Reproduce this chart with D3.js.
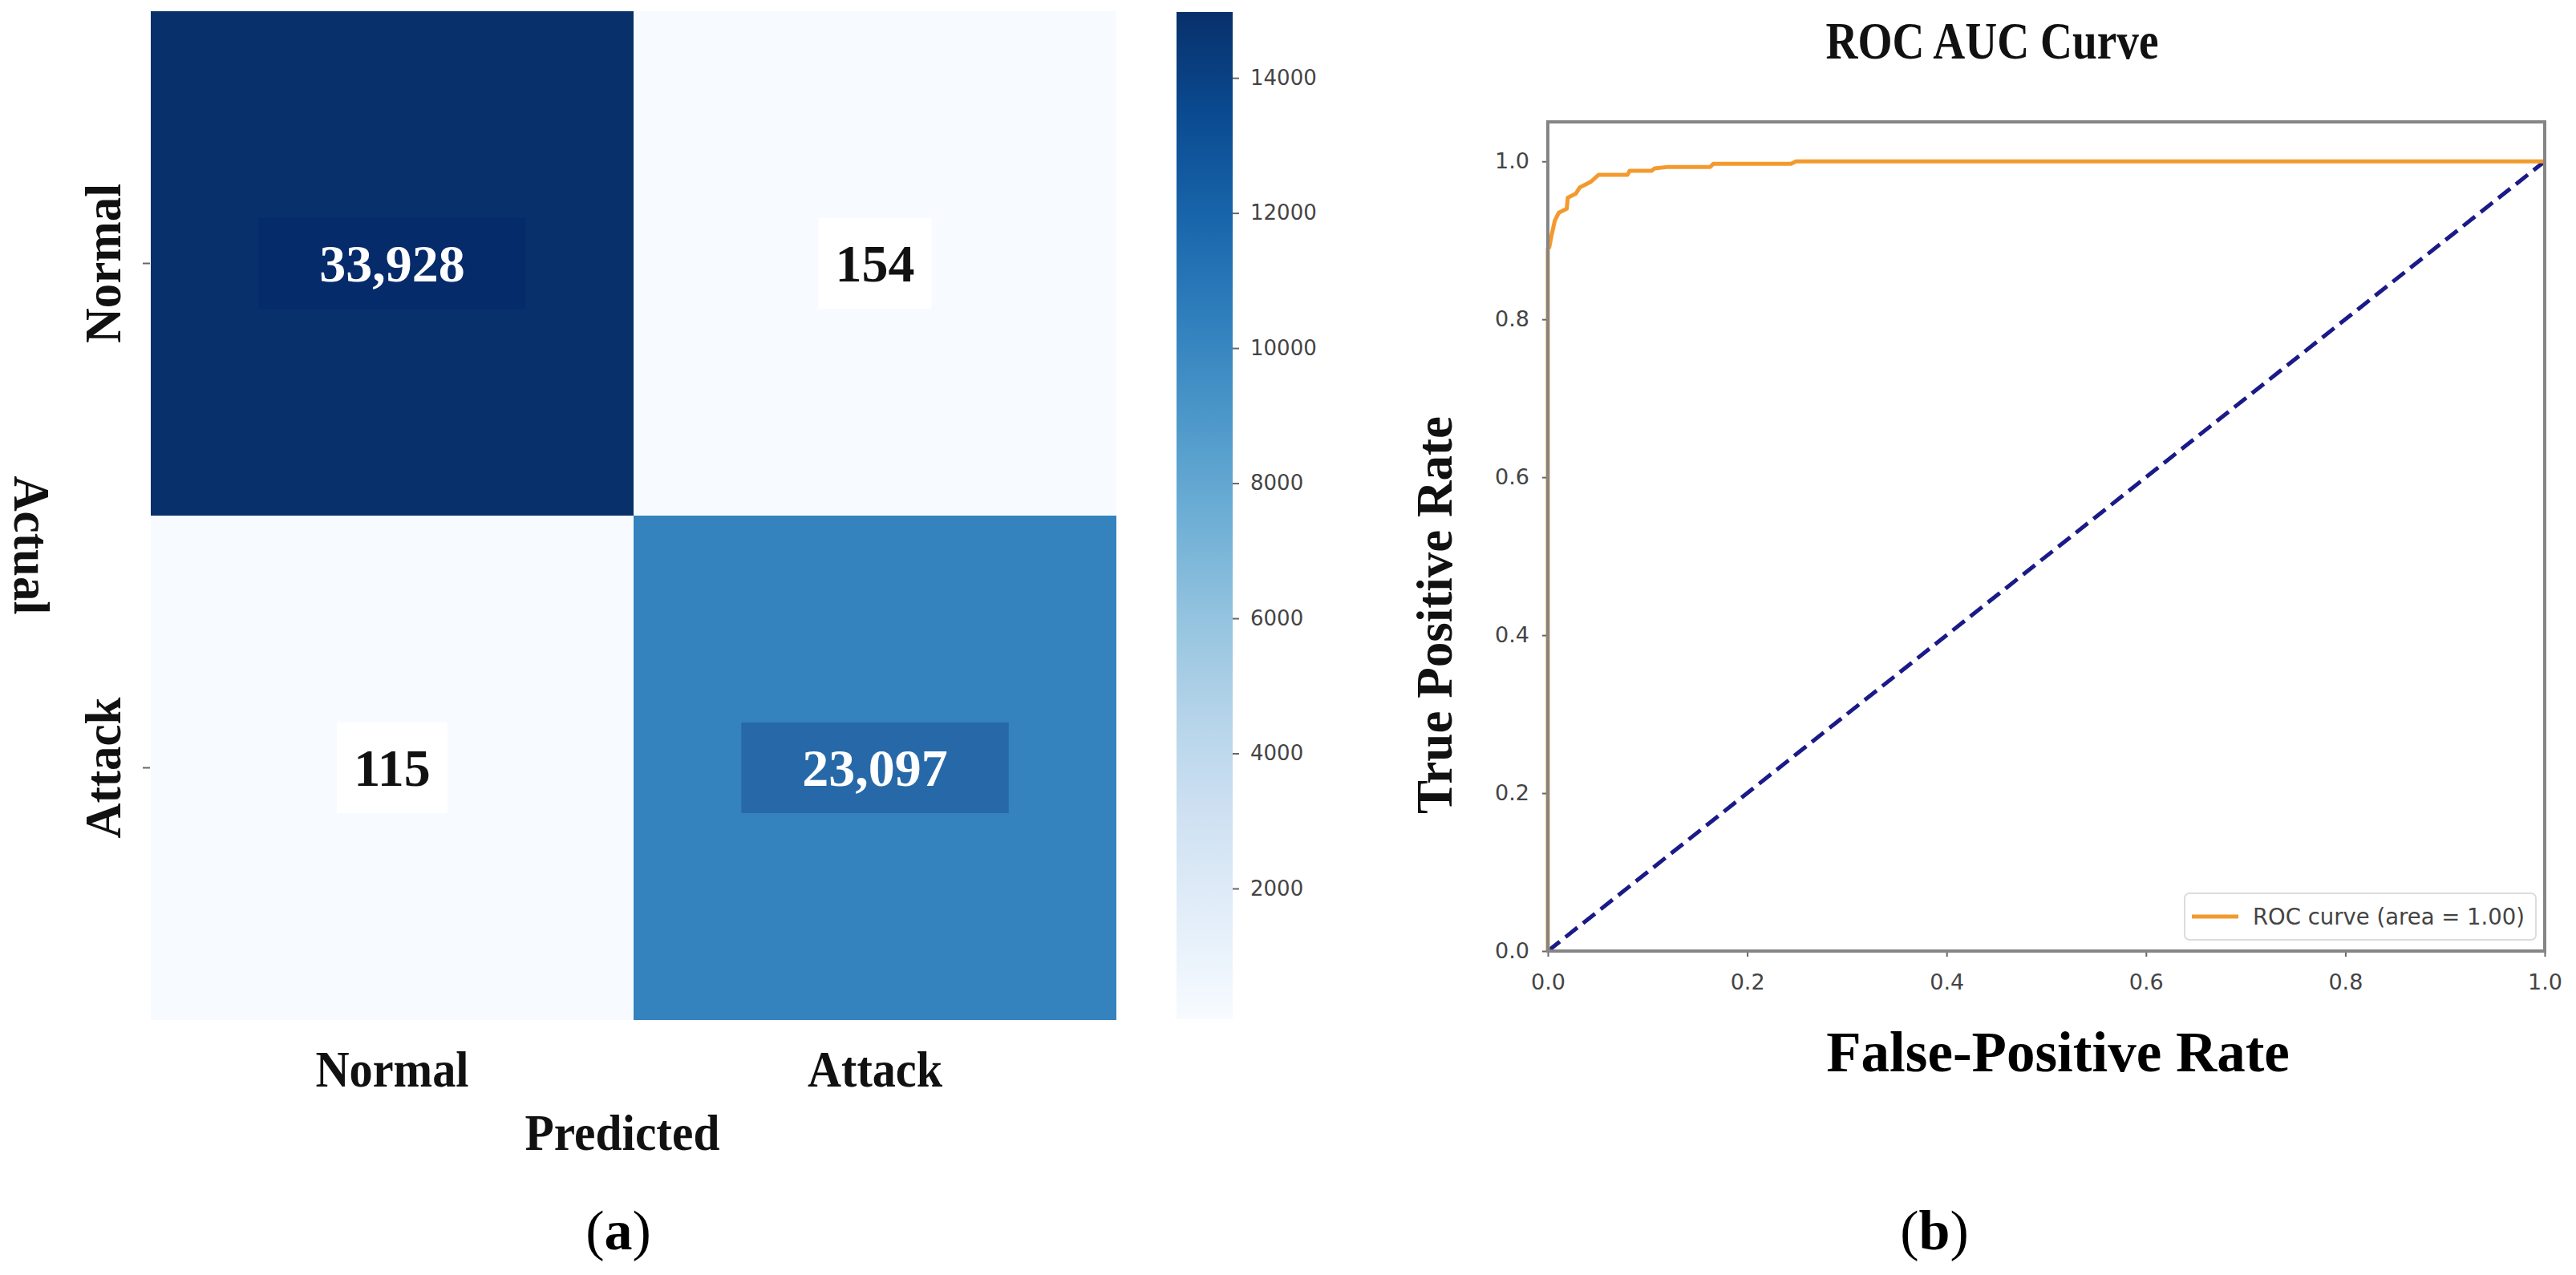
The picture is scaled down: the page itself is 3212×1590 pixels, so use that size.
<!DOCTYPE html>
<html>
<head>
<meta charset="utf-8">
<script src="https://cdn.jsdelivr.net/npm/d3@7"></script>
<style>
  body { margin: 0; background: #fff; }
  svg { display: block; }
</style>
</head>
<body>
<div id="chart"></div>
<script>
// ---- data: confusion matrix (a)
var classes = ["Normal", "Attack"];
var cmNormal = [33928, 154];   // actual Normal -> predicted Normal, Attack
var cmAttack = [115, 23097];   // actual Attack -> predicted Normal, Attack
var cbarTicks = [2000, 4000, 6000, 8000, 10000, 12000, 14000];
var cbarDomain = [65, 14975];

// ---- data: ROC curve (b)
var fpr = [0, 0, 0.0014, 0.004, 0.007, 0.011, 0.019, 0.020, 0.028, 0.032, 0.043, 0.051,
           0.080, 0.082, 0.104, 0.107, 0.121, 0.163, 0.166, 0.244, 0.249, 1.0];
var tpr = [0, 0.89, 0.891, 0.908, 0.925, 0.935, 0.940, 0.954, 0.959, 0.967, 0.974, 0.983,
           0.983, 0.988, 0.988, 0.991, 0.993, 0.993, 0.997, 0.997, 1.0, 1.0];
var chance = [0, 1];
var rocTicks = [0, 0.2, 0.4, 0.6, 0.8, 1.0];
var rocLegend = "ROC curve (area = 1.00)";

var svgWidth = 3212;
var svgHeight = 1590;
var serif = "'Liberation Serif', 'Times New Roman', serif";
var sans = "'DejaVu Sans', sans-serif";

var svg = d3.select("#chart")
    .append("svg")
    .attr("width", svgWidth)
    .attr("height", svgHeight);

svg.append("rect").attr("width", svgWidth).attr("height", svgHeight).attr("fill", "#fff");

// =================== (a) confusion matrix ===================
var hm = { left: 188, right: 1392, top: 14, bottom: 1272 };

var xBand = d3.scaleBand().domain(classes).range([hm.left, hm.right]);
var yBand = d3.scaleBand().domain(classes).range([hm.top, hm.bottom]);

var cells = [];
[cmNormal, cmAttack].forEach(function(row, i) {
    row.forEach(function(v, j) {
        cells.push({ actual: classes[i], pred: classes[j], value: v });
    });
});

var color = d3.scaleSequential(d3.interpolateBlues)
    .domain(d3.extent(cells, d => d.value));

var hmGroup = svg.append("g");

hmGroup.selectAll("rect.cell")
    .data(cells)
    .enter()
    .append("rect")
    .attr("class", "cell")
    .attr("x", d => xBand(d.pred))
    .attr("y", d => yBand(d.actual))
    .attr("width", xBand.bandwidth())
    .attr("height", yBand.bandwidth())
    .attr("fill", d => color(d.value));

// annotations with a label box behind each number
var ann = hmGroup.selectAll("g.ann")
    .data(cells)
    .enter()
    .append("g")
    .attr("class", "ann");

ann.append("text")
    .attr("x", d => xBand(d.pred) + xBand.bandwidth() / 2)
    .attr("y", d => yBand(d.actual) + yBand.bandwidth() / 2)
    .attr("dy", "0.34em")
    .attr("text-anchor", "middle")
    .attr("font-family", serif)
    .attr("font-weight", "bold")
    .attr("font-size", "66px")
    .attr("fill", d => d.value > 5000 ? "#fff" : "#111")
    .text(d => d3.format(",")(d.value));

ann.each(function(d) {
    var g = d3.select(this);
    var bb = g.select("text").node().getBBox();
    var padX = bb.width > 130 ? 76 : 21;
    var fill = d.value > 5000 ? d3.interpolateRgb(color(d.value), "#001a66")(0.25) : "#fff";
    g.insert("rect", "text")
        .attr("x", bb.x - padX)
        .attr("y", bb.y - 20)
        .attr("width", bb.width + padX * 2)
        .attr("height", bb.height + 40)
        .attr("fill", fill);
});

// y ticks + labels
classes.forEach(function(c) {
    var yc = yBand(c) + yBand.bandwidth() / 2;
    hmGroup.append("line")
        .attr("x1", hm.left - 10).attr("x2", hm.left - 1)
        .attr("y1", yc).attr("y2", yc)
        .attr("stroke", "#666").attr("stroke-width", 2);
    hmGroup.append("text")
        .attr("transform", `translate(150, ${yc}) rotate(-90)`)
        .attr("text-anchor", "middle")
        .attr("font-family", serif)
        .attr("font-weight", "bold")
        .attr("font-size", "64px")
        .attr("textLength", c === "Normal" ? 199 : 176)
        .attr("lengthAdjust", "spacingAndGlyphs")
        .attr("fill", "#111")
        .text(c);
});

// x labels
classes.forEach(function(c) {
    var xc = xBand(c) + xBand.bandwidth() / 2;
    hmGroup.append("text")
        .attr("x", xc)
        .attr("y", 1355)
        .attr("text-anchor", "middle")
        .attr("font-family", serif)
        .attr("font-weight", "bold")
        .attr("font-size", "64px")
        .attr("textLength", c === "Normal" ? 191 : 168)
        .attr("lengthAdjust", "spacingAndGlyphs")
        .attr("fill", "#111")
        .text(c);
});

hmGroup.append("text")
    .attr("x", (hm.left + hm.right) / 2 - 14)
    .attr("y", 1434)
    .attr("text-anchor", "middle")
    .attr("font-family", serif)
    .attr("font-weight", "bold")
    .attr("font-size", "64px")
    .attr("textLength", 243)
    .attr("lengthAdjust", "spacingAndGlyphs")
    .attr("fill", "#111")
    .text("Predicted");

// the "Actual" label in the figure reads top to bottom
hmGroup.append("text")
    .attr("transform", `translate(18, 680) rotate(90)`)
    .attr("text-anchor", "middle")
    .attr("font-family", serif)
    .attr("font-weight", "bold")
    .attr("font-size", "64px")
    .attr("textLength", 173)
    .attr("lengthAdjust", "spacingAndGlyphs")
    .attr("fill", "#111")
    .text("Actual");

// colorbar
var cb = { x: 1467, w: 70, top: 15, bottom: 1271 };
var cbScale = d3.scaleLinear().domain(cbarDomain).range([cb.bottom, cb.top]);

var grad = svg.append("defs").append("linearGradient")
    .attr("id", "cbGrad")
    .attr("x1", 0).attr("y1", 1).attr("x2", 0).attr("y2", 0);
d3.range(0, 1.0001, 0.1).forEach(function(t) {
    grad.append("stop").attr("offset", t).attr("stop-color", d3.interpolateBlues(t));
});

svg.append("rect")
    .attr("x", cb.x).attr("y", cb.top)
    .attr("width", cb.w).attr("height", cb.bottom - cb.top)
    .attr("fill", "url(#cbGrad)");

var cbAxis = svg.append("g")
    .attr("transform", `translate(${cb.x + cb.w}, 0)`)
    .call(d3.axisRight(cbScale).tickValues(cbarTicks).tickFormat(d3.format("d")).tickSize(8).tickPadding(14));
cbAxis.select(".domain").remove();
cbAxis.selectAll(".tick line").attr("stroke", "#666").attr("stroke-width", 2);
cbAxis.selectAll(".tick text")
    .attr("font-family", sans).attr("font-size", "26px").attr("fill", "#444");

// =================== (b) ROC curve ===================
var pl = { left: 1930, right: 3173, top: 152, bottom: 1186 };
var xScale = d3.scaleLinear().domain([0, 1]).range([pl.left, pl.right]);
var yScale = d3.scaleLinear().domain([0, 1.05]).range([pl.bottom, pl.top]);

var rocPts = fpr.map((f, i) => [f, tpr[i]]);
var line = d3.line().x(d => xScale(d[0])).y(d => yScale(d[1]));

svg.append("path")
    .datum(chance.map(v => [v, v]))
    .attr("d", line)
    .attr("fill", "none")
    .attr("stroke", "#1a1a88")
    .attr("stroke-width", 5)
    .attr("stroke-dasharray", "19,9");

svg.append("path")
    .datum(rocPts)
    .attr("d", line)
    .attr("fill", "none")
    .attr("stroke", "#f39a2e")
    .attr("stroke-width", 5)
    .attr("stroke-linejoin", "round");

// axes
var xAxis = svg.append("g")
    .attr("transform", `translate(0, ${pl.bottom})`)
    .call(d3.axisBottom(xScale).tickValues(rocTicks).tickFormat(d3.format(".1f")).tickSize(7).tickPadding(22));
var yAxis = svg.append("g")
    .attr("transform", `translate(${pl.left}, 0)`)
    .call(d3.axisLeft(yScale).tickValues(rocTicks).tickFormat(d3.format(".1f")).tickSize(7).tickPadding(16));
[xAxis, yAxis].forEach(function(ax) {
    ax.select(".domain").remove();
    ax.selectAll(".tick line").attr("stroke", "#666").attr("stroke-width", 2);
    ax.selectAll(".tick text").attr("font-family", sans).attr("font-size", "27px").attr("fill", "#444");
});

// frame on top
svg.append("rect")
    .attr("x", pl.left).attr("y", pl.top)
    .attr("width", pl.right - pl.left).attr("height", pl.bottom - pl.top)
    .attr("fill", "none")
    .attr("stroke", "#858585")
    .attr("stroke-width", 4);

// legend
var lg = svg.append("g").attr("transform", "translate(2724, 1114)");
lg.append("rect")
    .attr("width", 438).attr("height", 58).attr("rx", 6)
    .attr("fill", "#fff").attr("stroke", "#dcdcdc").attr("stroke-width", 2);
lg.append("line")
    .attr("x1", 9).attr("x2", 67).attr("y1", 29).attr("y2", 29)
    .attr("stroke", "#f39a2e").attr("stroke-width", 5);
lg.append("text")
    .attr("x", 85).attr("y", 39)
    .attr("font-family", sans).attr("font-size", "27.5px").attr("fill", "#444")
    .text(rocLegend);

// titles
svg.append("text")
    .attr("x", 2484).attr("y", 73)
    .attr("text-anchor", "middle")
    .attr("font-family", serif).attr("font-weight", "bold").attr("font-size", "66px")
    .attr("textLength", 415).attr("lengthAdjust", "spacingAndGlyphs")
    .attr("fill", "#111")
    .text("ROC AUC Curve");

svg.append("text")
    .attr("x", 2566).attr("y", 1336)
    .attr("text-anchor", "middle")
    .attr("font-family", serif).attr("font-weight", "bold").attr("font-size", "71px")
    .attr("fill", "#000")
    .text("False-Positive Rate");

svg.append("text")
    .attr("transform", "translate(1810, 767) rotate(-90)")
    .attr("text-anchor", "middle")
    .attr("font-family", serif).attr("font-weight", "bold").attr("font-size", "64px")
    .attr("textLength", 496).attr("lengthAdjust", "spacingAndGlyphs")
    .attr("fill", "#111")
    .text("True Positive Rate");

// sub-figure captions
[["a", 771], ["b", 2412]].forEach(function(p) {
    var t = svg.append("text")
        .attr("x", p[1]).attr("y", 1558)
        .attr("text-anchor", "middle")
        .attr("font-family", serif).attr("font-size", "70px")
        .attr("fill", "#000");
    t.append("tspan").text("(");
    t.append("tspan").attr("font-weight", "bold").text(p[0]);
    t.append("tspan").text(")");
});
</script>
</body>
</html>
